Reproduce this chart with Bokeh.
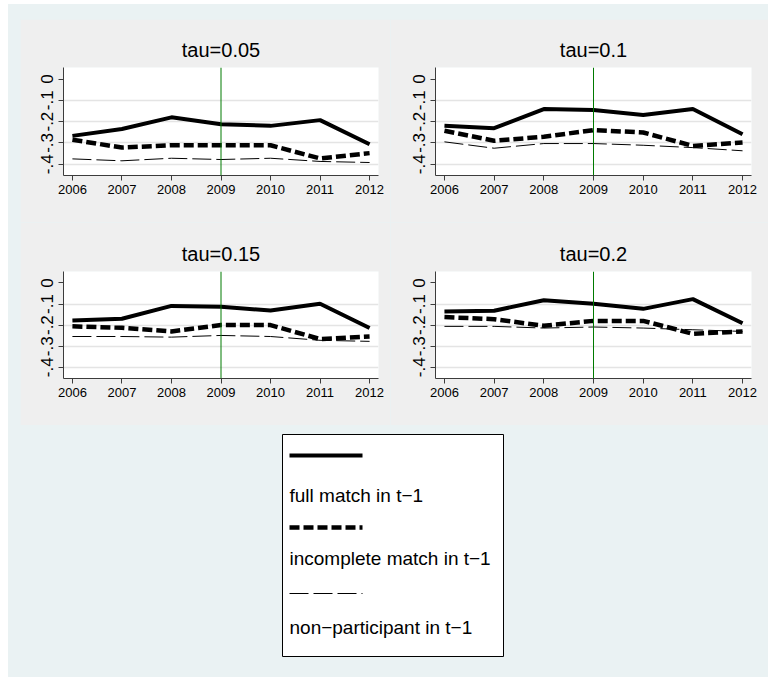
from bokeh.plotting import figure
from bokeh.layouts import row, column
from bokeh.models import Spacer, FixedTicker, Span
from bokeh.core.properties import value
from bokeh.embed import file_html
from bokeh.resources import INLINE

# ---- data -------------------------------------------------------------
years = [2006, 2007, 2008, 2009, 2010, 2011, 2012]
reform_year = 2009
tau_titles = ["tau=0.05", "tau=0.1", "tau=0.15", "tau=0.2"]

full_match = {
    "tau=0.05": [-0.267, -0.235, -0.180, -0.212, -0.220, -0.193, -0.306],
    "tau=0.1":  [-0.220, -0.231, -0.141, -0.146, -0.169, -0.141, -0.259],
    "tau=0.15": [-0.178, -0.170, -0.109, -0.113, -0.131, -0.099, -0.214],
    "tau=0.2":  [-0.135, -0.132, -0.082, -0.099, -0.123, -0.077, -0.191],
}
incomplete_match = {
    "tau=0.05": [-0.285, -0.322, -0.311, -0.311, -0.311, -0.373, -0.348],
    "tau=0.1":  [-0.243, -0.290, -0.271, -0.240, -0.251, -0.314, -0.298],
    "tau=0.15": [-0.206, -0.213, -0.230, -0.200, -0.200, -0.266, -0.254],
    "tau=0.2":  [-0.162, -0.172, -0.203, -0.180, -0.180, -0.241, -0.230],
}
non_participant = {
    "tau=0.05": [-0.375, -0.384, -0.372, -0.378, -0.372, -0.387, -0.392],
    "tau=0.1":  [-0.295, -0.325, -0.303, -0.303, -0.311, -0.322, -0.337],
    "tau=0.15": [-0.254, -0.254, -0.257, -0.249, -0.254, -0.272, -0.277],
    "tau=0.2":  [-0.206, -0.206, -0.214, -0.209, -0.214, -0.222, -0.230],
}

series_labels = ["full match in t\u22121", "incomplete match in t\u22121",
                 "non\u2212participant in t\u22121"]
y_ticks = [-0.4, -0.3, -0.2, -0.1, 0.0]
y_tick_labels = ["-.4", "-.3", "-.2", "-.1", "0"]

# ---- styling ----------------------------------------------------------
FONT = "Liberation Sans"
OUTER_BG = "#EAF2F3"
PANEL_BG = "#EFEFEF"
AXIS_COLOR = "#3C3C3C"
GRID_COLOR = "#E4E4E4"

series_data = [full_match, incomplete_match, non_participant]
series_styles = [
    dict(line_color="black", line_width=4),
    dict(line_color="black", line_width=4.5, line_dash="10 4"),
    dict(line_color="black", line_width=1, line_dash="19 5"),
]


def make_panel(title, width, left, right, top, bottom):
    p = figure(width=width, height=203,
               x_range=(2005.82, 2012.18), y_range=(-0.453, 0.054),
               output_backend="svg", toolbar_location=None,
               min_border_left=left, min_border_right=right,
               min_border_top=top, min_border_bottom=bottom)
    p.background_fill_color = "white"
    p.border_fill_color = PANEL_BG
    p.outline_line_color = None

    p.title.text = title
    p.title.align = "center"
    p.title.text_font = FONT
    p.title.text_font_size = "20px"
    p.title.text_font_style = "normal"
    p.title.text_color = "black"
    p.title.standoff = 14

    p.xaxis.ticker = FixedTicker(ticks=years)
    p.xaxis.major_label_overrides = {y: str(y) for y in years}
    p.yaxis.ticker = FixedTicker(ticks=y_ticks)
    p.yaxis.major_label_overrides = dict(zip(y_ticks, y_tick_labels))
    p.yaxis.major_label_orientation = "vertical"

    for ax in (p.xaxis[0], p.yaxis[0]):
        ax.axis_line_color = AXIS_COLOR
        ax.major_tick_line_color = AXIS_COLOR
        ax.major_tick_out = 5
        ax.major_tick_in = 0
        ax.minor_tick_out = 0
        ax.minor_tick_in = 0
        ax.major_label_text_font = FONT
        ax.major_label_text_color = "black"
    p.xaxis.major_label_text_font_size = "13px"
    p.xaxis.major_label_standoff = 4
    p.yaxis.major_label_text_font_size = "17px"
    p.yaxis.major_label_standoff = 5

    p.xgrid.visible = False
    p.ygrid.ticker = FixedTicker(ticks=y_ticks[:-1])
    p.ygrid.grid_line_color = GRID_COLOR
    p.ygrid.grid_line_width = 1.5

    p.add_layout(Span(location=reform_year, dimension="height",
                      line_color="#007A00", line_width=1))

    for data, style in zip(series_data, series_styles):
        p.line(years, data[title], **style)
    return p


p1 = make_panel(tau_titles[0], 370, 43, 12, 48, 47)
p2 = make_panel(tau_titles[1], 378, 45, 17, 48, 47)
p3 = make_panel(tau_titles[2], 370, 43, 12, 49, 47)
p4 = make_panel(tau_titles[3], 378, 45, 17, 49, 47)

panels = column(row(p1, p2), row(p3, p4))

# ---- legend: sample line above each label, inside a white box ---------
lf = figure(width=760, height=252, x_range=(0, 760), y_range=(0, 252),
            x_axis_type=None, y_axis_type=None, min_border=0,
            output_backend="svg", toolbar_location=None)
lf.background_fill_color = OUTER_BG
lf.border_fill_color = OUTER_BG
lf.outline_line_color = None
lf.grid.visible = False

lf.quad(left=[274], right=[495], bottom=[21], top=[243],
        fill_color="white", line_color="black", line_width=1)

sample_y = [222, 150, 84]
label_y = [182, 119, 50]
for label, style, sy, ty in zip(series_labels, series_styles, sample_y, label_y):
    lf.line([281, 354], [sy, sy], **style)
    lf.text(x=[281], y=[ty], text=[label], text_font=value(FONT),
            text_font_size="19px", text_baseline="middle", text_align="left",
            text_color="black")

layout = column(
    Spacer(width=760, height=15),
    row(Spacer(width=12, height=406), panels),
    lf,
    styles={"background-color": OUTER_BG},
    margin=(4, 0, 0, 8),
)

open("out.html", "w").write(file_html(layout, INLINE))
